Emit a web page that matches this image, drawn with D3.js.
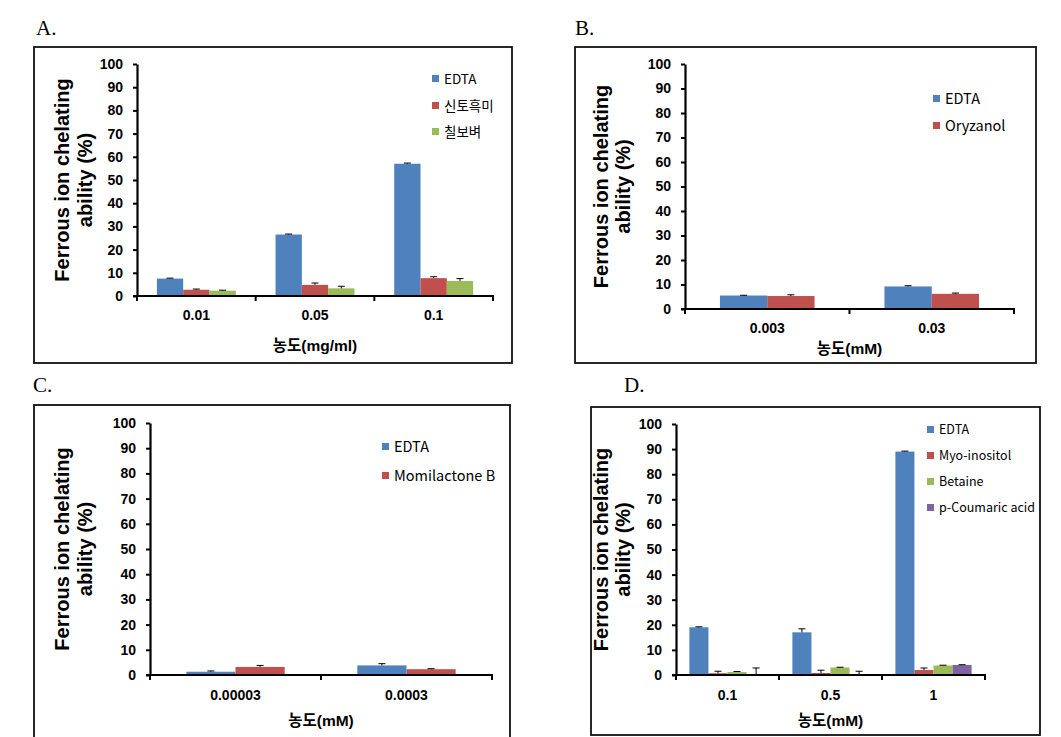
<!DOCTYPE html>
<html><head><meta charset="utf-8">
<script src="https://cdn.jsdelivr.net/npm/d3@7/dist/d3.min.js"></script>
<style>
body{margin:0;background:#fff;}
svg{display:block;}
</style></head>
<body><svg id="c" width="1061" height="737"></svg>
<script>
// ---------- DATA ----------
const yTicks = [0,10,20,30,40,50,60,70,80,90,100];
const colors = ["#4F81BD","#C0504D","#9BBB59","#8064A2"];

const catsA = ["0.01","0.05","0.1"];
const seriesA = ["EDTA","신토흑미","칠보벼"];
const valuesA = [[7.5,26.5,57.0],[2.7,4.8,7.7],[2.3,3.3,6.5]];
const errorsA = [[0.2,0.2,0.3],[0.3,0.8,0.6],[0.2,0.9,1.0]];

const catsB = ["0.003","0.03"];
const seriesB = ["EDTA","Oryzanol"];
const valuesB = [[5.5,9.2],[5.3,6.2]];
const errorsB = [[0.1,0.3],[0.5,0.3]];

const catsC = ["0.00003","0.0003"];
const seriesC = ["EDTA","Momilactone B"];
const valuesC = [[1.3,3.8],[3.2,2.3]];
const errorsC = [[0.3,0.7],[0.6,0.2]];

const catsD = ["0.1","0.5","1"];
const seriesD = ["EDTA","Myo-inositol","Betaine","p-Coumaric acid"];
const valuesD = [[19.0,17.0,89.0],[0.7,0.8,2.0],[1.2,3.0,3.8],[0.1,0.1,4.0]];
const errorsD = [[0.2,1.4,0.2],[0.8,1.1,0.8],[0.2,0.1,0.1],[2.7,1.4,0.1]];

// ---------- LAYOUT ----------
const svg = d3.select("#c");
const FONT = "'Liberation Sans', Arial, 'Noto Sans CJK KR', sans-serif";
const KFONT = "'Liberation Sans', Arial, 'Noto Sans CJK KR', sans-serif";

const panels = [
  {label:"A.", lx:36, ly:35, box:[34,47,512,363], ax:137, ay0:296, ay1:64, axEnd:493,
   cats:catsA, series:seriesA, values:valuesA, errors:errorsA, groupFrac:0.665,
   xTitle:"농도(mg/ml)", xLabY:320, xTitleY:351, yT1:69, yT2:92,
   legX:432, legY:[79,106,132], legFont:13.5},
  {label:"B.", lx:575, ly:35, box:[575,47,1036,363], ax:685, ay0:309, ay1:64, axEnd:1014,
   cats:catsB, series:seriesB, values:valuesB, errors:errorsB, groupFrac:0.575,
   xTitle:"농도(mM)", xLabY:333, xTitleY:354, yT1:608, yT2:630,
   legX:933, legY:[99,126], legFont:14.5},
  {label:"C.", lx:33, ly:392, box:[34,405,510,745], ax:150, ay0:675, ay1:423, axEnd:492,
   cats:catsC, series:seriesC, values:valuesC, errors:errorsC, groupFrac:0.575,
   xTitle:"농도(mM)", xLabY:700, xTitleY:726, yT1:69, yT2:92,
   legX:382, legY:[447,476], legFont:14.5},
  {label:"D.", lx:624, ly:392, box:[591,407,1040,735], ax:676, ay0:675, ay1:424, axEnd:985,
   cats:catsD, series:seriesD, values:valuesD, errors:errorsD, groupFrac:0.74,
   xTitle:"농도(mM)", xLabY:700, xTitleY:726, yT1:608, yT2:630,
   legX:927, legY:[430,456,482,508], legFont:12.5}
];

panels.forEach(p => {
  const g = svg.append("g");
  // panel letter
  g.append("text").attr("x",p.lx).attr("y",p.ly).text(p.label)
    .attr("font-family","'Liberation Serif','Times New Roman',serif")
    .attr("font-size",21).attr("fill","#000");
  // frame
  const [bx0,by0,bx1,by1] = p.box;
  g.append("rect").attr("x",bx0).attr("y",by0).attr("width",bx1-bx0).attr("height",by1-by0)
    .attr("fill","none").attr("stroke","#111").attr("stroke-width",1.8);

  const y = d3.scaleLinear().domain([0,100]).range([p.ay0,p.ay1]);
  const x = d3.scaleBand().domain(p.cats).range([p.ax,p.axEnd]).padding(0);
  const bw = x.bandwidth();
  const inner = d3.scaleBand().domain(d3.range(p.series.length))
    .range([bw*(1-p.groupFrac)/2, bw*(1+p.groupFrac)/2]).padding(0);

  // bars
  p.series.forEach((s,si) => {
    const sg = g.append("g");
    sg.selectAll("rect").data(p.cats).join("rect")
      .attr("x", (c)=> x(c)+inner(si))
      .attr("width", inner.bandwidth())
      .attr("y", (c,i)=> y(p.values[si][i]))
      .attr("height", (c,i)=> y(0)-y(p.values[si][i]))
      .attr("fill", colors[si]);
  });
  // error bars
  p.series.forEach((s,si) => {
    const eg = g.append("g").attr("stroke","#000").attr("stroke-width",1).attr("fill","none");
    p.cats.forEach((c,i) => {
      const cx = x(c)+inner(si)+inner.bandwidth()/2;
      const top = y(p.values[si][i]+p.errors[si][i]);
      const base = y(p.values[si][i]);
      eg.append("line").attr("x1",cx).attr("x2",cx).attr("y1",base).attr("y2",top);
      eg.append("line").attr("x1",cx-3.5).attr("x2",cx+3.5).attr("y1",top).attr("y2",top);
    });
  });

  // y axis
  const yAxis = d3.axisLeft(y).tickValues(yTicks).tickSize(4).tickPadding(10).tickSizeOuter(0);
  const yg = g.append("g").attr("transform",`translate(${p.ax},0)`).call(yAxis);
  yg.select(".domain").attr("stroke","#000").attr("stroke-width",2.2);
  yg.selectAll(".tick line").attr("stroke","#000").attr("stroke-width",2);
  yg.selectAll(".tick text").attr("font-family",FONT).attr("font-weight","bold")
    .attr("font-size",14).attr("fill","#000");

  // x axis line and boundary ticks
  const xg = g.append("g");
  xg.append("line").attr("x1",p.ax-4).attr("x2",p.axEnd+1).attr("y1",p.ay0).attr("y2",p.ay0)
    .attr("stroke","#000").attr("stroke-width",2.2);
  const bounds = p.cats.map(c=>x(c)).concat([p.axEnd]);
  xg.selectAll(".bt").data(bounds).join("line").attr("class","bt")
    .attr("x1",d=>d).attr("x2",d=>d).attr("y1",p.ay0).attr("y2",p.ay0+5)
    .attr("stroke","#000").attr("stroke-width",2);
  xg.selectAll(".xl").data(p.cats).join("text").attr("class","xl")
    .attr("x",c=>x(c)+bw/2).attr("y",p.xLabY).attr("text-anchor","middle")
    .attr("font-family",FONT).attr("font-weight","bold").attr("font-size",14).attr("fill","#000")
    .text(c=>c);
  // x title
  g.append("text").attr("x",(p.ax+p.axEnd)/2).attr("y",p.xTitleY).attr("text-anchor","middle")
    .attr("font-family",KFONT).attr("font-weight","bold").attr("font-size",15.5).attr("fill","#000")
    .text(p.xTitle);
  // y title
  const yc = (p.ay0+p.ay1)/2;
  [["Ferrous ion chelating",p.yT1],["ability (%)",p.yT2]].forEach(([t,xx])=>{
    g.append("text").attr("transform",`translate(${xx},${yc}) rotate(-90)`)
      .attr("text-anchor","middle").attr("font-family",FONT).attr("font-weight","bold")
      .attr("font-size",20).attr("fill","#000").text(t);
  });
  // legend
  p.series.forEach((s,si)=>{
    g.append("rect").attr("x",p.legX).attr("y",p.legY[si]-4).attr("width",7).attr("height",7)
      .attr("fill",colors[si]);
    g.append("text").attr("x",p.legX+12).attr("y",p.legY[si]).attr("dy","0.35em")
      .attr("font-family","'Noto Sans CJK KR','Noto Sans',sans-serif").attr("font-size",p.legFont)
      .attr("fill","#000").text(s);
  });
});
</script></body></html>
